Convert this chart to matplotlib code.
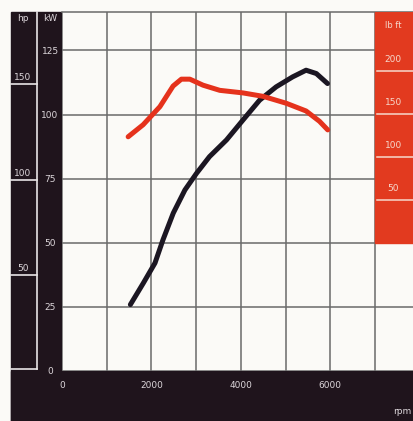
import numpy as np
import matplotlib
matplotlib.use("Agg")
import matplotlib.pyplot as plt
from matplotlib.patches import Rectangle
from matplotlib.transforms import blended_transform_factory

# power curve (kW) and torque curve (lb ft)
rpm_power = [1530, 1820, 2080, 2260, 2490, 2750, 3010, 3300, 3680, 4050, 4420, 4790, 5160, 5460, 5690, 5940]
power_kw = [25.9, 34.3, 42.1, 51.2, 61.6, 70.6, 77.1, 83.6, 90.1, 97.9, 105.6, 110.8, 114.7, 117.3, 116.0, 112.1]
rpm_torque = [1480, 1815, 2190, 2485, 2670, 2860, 3155, 3530, 4050, 4500, 5015, 5460, 5760, 5945]
torque = [123, 137, 158, 182, 190, 190, 183, 177, 174, 170, 162, 153, 141, 131]

kw_ticks = [0, 25, 50, 75, 100, 125]
hp_ticks = [50, 100, 150]
tq_ticks = [50, 100, 150, 200]
rpm_major = [0, 2000, 4000, 6000]
rpm_minor = [1000, 3000, 5000, 7000]

DARK, RED, RED_BG, INK = "#1f141c", "#e5321c", "#e23a1f", "#1b1622"
TXT, GRID, BG = "#dcd6da", "#6a6a6a", "#fbfaf7"
W, H = 413, 421

fig = plt.figure(figsize=(W / 100, H / 100), dpi=100, facecolor=BG)
ax = fig.add_axes([62 / W, (H - 371) / H, (W - 62) / W, (371 - 12) / H])
ax.set_facecolor(BG)
xmax = (W - 62) / 44.7 * 1000
ax.set_xlim(0, xmax)
ax.set_ylim(0, 140)

# dark frame bands (left scale column and rpm strip)
fig.patches.append(Rectangle((11 / W, 0), (62 - 11) / W, (H - 12) / H, transform=fig.transFigure,
                             color=DARK, zorder=-2))
fig.patches.append(Rectangle((11 / W, 0), (W - 11) / W, (H - 371) / H, transform=fig.transFigure,
                             color=DARK, zorder=-2))

ax.set_axisbelow(True)
ax.set_xticks(rpm_major)
ax.set_xticks(rpm_minor, minor=True)
ax.set_xticklabels([str(v) for v in rpm_major])
ax.set_yticks(kw_ticks)
ax.set_yticklabels([str(v) for v in kw_ticks])
ax.grid(True, which="both", color=GRID, lw=1.1)
ax.tick_params(axis="both", which="both", length=0, colors=TXT, labelsize=6.5)
ax.tick_params(axis="x", pad=7)
ax.tick_params(axis="y", pad=8.6)
for lab in ax.get_yticklabels():
    lab.set_ha("center")
for s in ["left", "right", "bottom"]:
    ax.spines[s].set_visible(False)
ax.spines["top"].set_color(GRID)
ax.spines["top"].set_linewidth(1.1)

# hp scale in the left column
bt = blended_transform_factory(ax.transAxes, ax.transData)
px = 1 / (W - 62)
ax.plot([-25 * px, -25 * px], [0.8, 140], transform=bt, color="#e8e4e6", lw=1.2, clip_on=False)
ax.plot([-51 * px, -25 * px], [0.8, 0.8], transform=bt, color="#e8e4e6", lw=1.2, clip_on=False)
for h in hp_ticks:
    kw = h * 0.7457
    ax.plot([-51 * px, -25 * px], [kw, kw], transform=bt, color="#e8e4e6", lw=1.2, clip_on=False)
    ax.text(-39 * px, kw + 2.5, str(h), transform=bt, ha="center", va="center",
            color=TXT, fontsize=6.5)
ax.text(-39 * px, 137.5, "hp", transform=bt, ha="center", va="center", color=TXT, fontsize=6.5)
ax.text(-12 * px, 137.5, "kW", transform=bt, ha="center", va="center", color=TXT, fontsize=6.5)
fig.text(411 / W, (H - 411) / H, "rpm", ha="right", va="center", color=TXT, fontsize=6.5)

ax.plot(rpm_power, power_kw, color=INK, lw=3.6, solid_capstyle="round", zorder=3)

# torque on its own scale (lb ft)
t0, tslope = 50.1, 0.3353
ax2 = ax.twinx()
ax2.set_ylim((0 - t0) / tslope, (140 - t0) / tslope)
ax2.set_xlim(0, xmax)
ax2.axis("off")
ax2.add_patch(Rectangle((7000, 0), xmax - 7000, ax2.get_ylim()[1], color=RED_BG, zorder=1))
for t in tq_ticks:
    ax2.plot([7040, xmax], [t, t], color="#f6d8cc", lw=1.1, zorder=2)
    ax2.text(7410, t + 13, str(t), ha="center", va="center", color="#f6d8cc", fontsize=6.5, zorder=2)
ax2.text(7410, 252, "lb ft", ha="center", va="center", color="#f6d8cc", fontsize=6, zorder=2)
ax2.plot(rpm_torque, torque, color=RED, lw=3.6, solid_capstyle="round", zorder=3)

fig.savefig("out.png", dpi=100, facecolor=BG)
